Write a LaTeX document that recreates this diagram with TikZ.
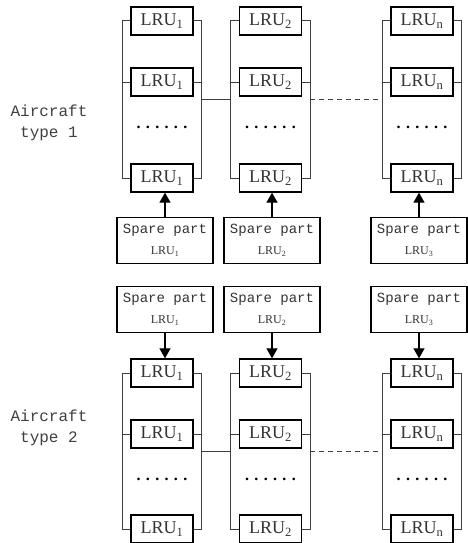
\documentclass[tikz,border=0pt]{standalone}
\usepackage{fontspec}
\setmainfont{Liberation Serif}
\setmonofont{Liberation Mono}
\usetikzlibrary{arrows.meta}

\begin{document}
\begin{tikzpicture}[x=1pt,y=-1pt,
  lru/.style={draw,line width=1.3pt,minimum width=62pt,minimum height=28pt,inner sep=0pt,
    text=black!80,font=\fontsize{18}{18}\selectfont},
  spare/.style={draw,line width=1.3pt,minimum width=96pt,minimum height=46pt,inner sep=0pt,
    align=center,text=black!80,font=\fontsize{14}{21}\selectfont\ttfamily},
  dots/.style={font=\fontsize{16}{16}\selectfont\bfseries},
  bracket/.style={line width=1pt,draw=black!75},
  feed/.style={line width=1.2pt,-{Triangle[width=11pt,length=10pt]}},
  kind/.style={align=center,text=black!75,font=\fontsize{16}{21}\selectfont\ttfamily}]
\useasboundingbox (0,0) rectangle (467,543);

\node[kind] (k1) at (49,122.5) {Aircraft\\type 1};
\node[kind] (k2) at (49,427.5) {Aircraft\\type 2};

\foreach \c/\x/\sx/\s/\p in {1/162/165/1/1, 2/270.5/272/2/2, 3/422/419/n/3}{
  % aircraft type 1
  \node[lru] (ta\c) at (\x,21) {LRU\textsubscript{\s}};
  \node[lru] (tb\c) at (\x,82) {LRU\textsubscript{\s}};
  \node[dots] (td\c) at (\x,127) {. . . . . .};
  \node[lru] (tc\c) at (\x,178) {LRU\textsubscript{\s}};
  \draw[bracket] (ta\c.west) -- ++(-8,0) |- (tc\c.west);
  \draw[bracket] (tb\c.west) -- ++(-8,0);
  \draw[bracket] (ta\c.east) -- ++(8,0) |- (tc\c.east);
  \draw[bracket] (tb\c.east) -- ++(8,0);
  \path ([xshift=-8pt]ta\c.west) -- coordinate[pos=.5] (tl\c) ([xshift=-8pt]tc\c.west);
  \path ([xshift=8pt]ta\c.east) -- coordinate[pos=.5] (tr\c) ([xshift=8pt]tc\c.east);
  \node[spare] (ts\c) at (\sx,240.5) {Spare part\\{\rmfamily\fontsize{12}{12}\selectfont LRU\textsubscript{\p}}};
  \draw[feed] (ts\c.north) -- (ts\c.north |- tc\c.south);
  % aircraft type 2
  \node[spare] (bs\c) at (\sx,309.5) {Spare part\\{\rmfamily\fontsize{12}{12}\selectfont LRU\textsubscript{\p}}};
  \node[lru] (ba\c) at (\x,373) {LRU\textsubscript{\s}};
  \node[lru] (bb\c) at (\x,434) {LRU\textsubscript{\s}};
  \node[dots] (bd\c) at (\x,479) {. . . . . .};
  \node[lru] (bc\c) at (\x,529) {LRU\textsubscript{\s}};
  \draw[bracket] (ba\c.west) -- ++(-8,0) |- (bc\c.west);
  \draw[bracket] (bb\c.west) -- ++(-8,0);
  \draw[bracket] (ba\c.east) -- ++(8,0) |- (bc\c.east);
  \draw[bracket] (bb\c.east) -- ++(8,0);
  \path ([xshift=-8pt]ba\c.west) -- coordinate[pos=.5] (bl\c) ([xshift=-8pt]bc\c.west);
  \path ([xshift=8pt]ba\c.east) -- coordinate[pos=.5] (br\c) ([xshift=8pt]bc\c.east);
  \draw[feed] (bs\c.south) -- (bs\c.south |- ba\c.north);
}

\draw[bracket] (tr1) -- (tl2);
\draw[bracket,dash pattern=on 5pt off 4pt] (tr2) -- (tl3);
\draw[bracket] (br1) -- (bl2);
\draw[bracket,dash pattern=on 5pt off 4pt] (br2) -- (bl3);
\end{tikzpicture}
\end{document}
